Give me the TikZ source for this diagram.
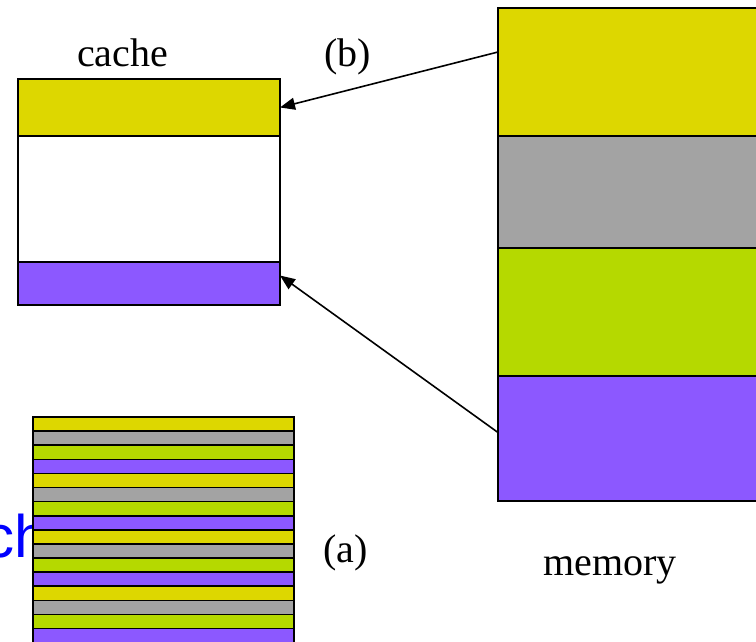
\documentclass[tikz,border=0pt]{standalone}
\usepackage{fontspec}
\setmainfont{Liberation Serif}
\newfontfamily\labelsans{Liberation Sans}
\usetikzlibrary{arrows.meta}
\definecolor{blkyellow}{RGB}{221,215,0}
\definecolor{blkgray}{RGB}{163,163,163}
\definecolor{blkgreen}{RGB}{181,217,0}
\definecolor{blkpurple}{RGB}{140,88,255}
\begin{document}
\begin{tikzpicture}[x=1pt,y=-1pt,
  block/.style={draw=black,line width=2pt,rectangle,inner sep=0pt,outer sep=0pt,anchor=north west},
  stripe/.style={block,line width=1.6pt,minimum width=261pt,minimum height=14.1pt},
  lbl/.style={font=\fontsize{40}{40}\selectfont,anchor=base west,inner sep=0pt},
  link/.style={draw=black,line width=1.6pt,-{Triangle[length=15pt,width=12pt]}}]
\useasboundingbox (0,0) rectangle (756,642);
\clip (0,0) rectangle (756,642);

% partly hidden blue word at the left edge, tucked under the striped block
\node[anchor=base west,inner sep=0pt,text=blue,font=\labelsans\fontsize{60}{60}\selectfont] (word) at (-15.5,557) {ch};

% cache
\node[block,fill=white,minimum width=262pt,minimum height=226pt] (cache) at (18,79) {};
\node[block,fill=blkyellow,minimum width=262pt,minimum height=57pt] (cachey) at (18,79) {};
\node[block,fill=blkpurple,minimum width=262pt,minimum height=43pt] (cachep) at (18,262) {};

% memory
\node[block,fill=blkyellow,minimum width=300pt,minimum height=128pt] (memy) at (498,8) {};
\node[block,fill=blkgray,minimum width=300pt,minimum height=112pt] (memg) at (498,136) {};
\node[block,fill=blkgreen,minimum width=300pt,minimum height=128pt] (memn) at (498,248) {};
\node[block,fill=blkpurple,minimum width=300pt,minimum height=125pt] (memp) at (498,376) {};

% striped memory view
\foreach \i/\c in {0/blkyellow,1/blkgray,2/blkgreen,3/blkpurple,
                   4/blkyellow,5/blkgray,6/blkgreen,7/blkpurple,
                   8/blkyellow,9/blkgray,10/blkgreen,11/blkpurple,
                   12/blkyellow,13/blkgray,14/blkgreen,15/blkpurple}
  \node[stripe,fill=\c] (s\i) at (33,417+14.1*\i) {};

% labels
\node[lbl] (lcache) at (77,67) {cache};
\node[lbl] (lb) at (324,67) {(b)};
\node[lbl] (la) at (323,562) {(a)};
\node[lbl] (lmem) at (543,575) {memory};

% mapping arrows
\draw[link] ([yshift=-44pt]memy.north west) -- (cachey.east);
\draw[link] ([yshift=6pt]memp.west) -- ([yshift=8pt]cachep.east);
\end{tikzpicture}
\end{document}
